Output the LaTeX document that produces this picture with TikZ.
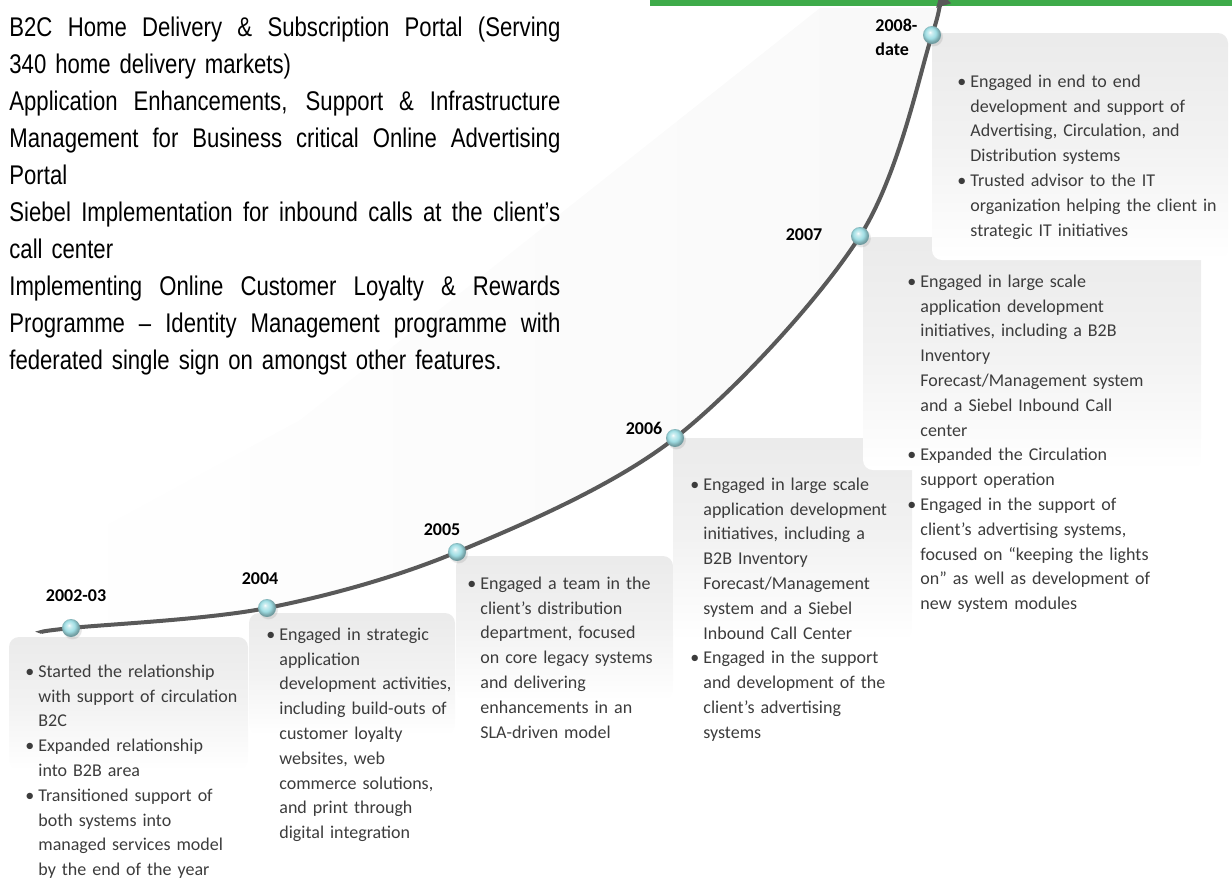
\documentclass[tikz,border=0pt]{standalone}
\usepackage{fontspec}
\setmainfont{Carlito}
\newfontfamily\narrowfont[FakeStretch=0.82]{Liberation Sans}
\usepackage{tikz}
\usetikzlibrary{arrows.meta}
\usetikzlibrary{shadows}
\definecolor{barGreen}{RGB}{62,171,74}
\definecolor{bodyGray}{RGB}{60,60,60}
\definecolor{pearl}{RGB}{160,222,228}
\pgfdeclareradialshading{pearlball}{\pgfqpoint{-6bp}{8bp}}{color(0bp)=(white); color(5bp)=(white!50!pearl); color(15bp)=(pearl); color(25bp)=(pearl!70!black); color(50bp)=(pearl!70!black)}
\tikzstyle{timeline}=[line width=2pt, draw=black!65, -{Triangle[length=7pt, width=7pt]}]
\tikzstyle{marker}=[circle, inner sep=0pt, minimum size=9pt, shading=pearlball, circular drop shadow={shadow xshift=0.6pt, shadow yshift=-0.8pt, opacity=0.2}]
\tikzstyle{year}=[inner sep=0pt, align=left, font=\fontsize{9}{12}\selectfont\bfseries]
\tikzstyle{panel}=[rounded corners=5pt, top color=black!8, bottom color=white, middle color=black!5]
\tikzstyle{notes}=[anchor=north west, inner sep=0pt, text width=135pt, align=left, text=bodyGray, font=\fontsize{9}{12.4}\selectfont]
\newlength{\introwidth}
\setlength{\introwidth}{275.5pt}
\newcommand{\bitem}{\par\let\\\newline\hangindent=6.5pt\hangafter=1\noindent\makebox[6.5pt][l]{\textbullet}}
\newcommand{\jline}[1]{{\spaceskip=0.25em plus 1fil\makebox[\introwidth][s]{#1}}\\}

\begin{document}
\begin{tikzpicture}[x=0.5pt, y=-0.5pt]
	\useasboundingbox (0,0) rectangle (1232,880);
	% points on the time line
	\coordinate (t0) at (42,632);
	\coordinate (y02) at (71,628);
	\coordinate (y04) at (267,608);
	\coordinate (y05) at (457,552);
	\coordinate (y06) at (675,438);
	\coordinate (y07) at (860,236);
	\coordinate (y08) at (932,35);
	\coordinate (tip) at (936,8);

	\fill[barGreen] (650,0) rectangle (1232,6);

	% faint sweep left of the curve
	\shade[left color=white, right color=black!2.5] plot[smooth, tension=0.55] coordinates {(t0) (y02) (y04) (y05) (y06) (y07) (y08) (tip)} -- (820,8) -- (300,420) -- (42,560) -- cycle;

	% panels
	\shade[panel] (9,637) rectangle (248,770);
	\shade[panel] (249,613) rectangle (455,735);
	\shade[panel] (456,556) rectangle (673,700);
	\shade[panel] (673,438) rectangle (912,640);
	\shade[panel] (863,237) rectangle (1201,470);
	\shade[panel] (932,33) rectangle (1228,260);

	\draw[timeline] plot[smooth, tension=0.55] coordinates {(t0) (y02) (y04) (y05) (y06) (y07) (y08) (tip)};

	\node[marker] (n02) at (y02) {};
	\node[marker] (n04) at (y04) {};
	\node[marker] (n05) at (y05) {};
	\node[marker] (n06) at (y06) {};
	\node[marker] (n07) at (y07) {};
	\node[marker] (n08) at (y08) {};

	\node[year] (l02) at (76,596) {2002-03};
	\node[year] (l04) at (260,579) {2004};
	\node[year] (l05) at (442,530) {2005};
	\node[year] (l06) at (644,428) {2006};
	\node[year] (l07) at (804,235) {2007};
	\node[year, anchor=north west] (l08) at (875,19) {2008-\\date};

	% left text block
	\node[anchor=north west, inner sep=0pt, text width=\introwidth, align=left, font=\narrowfont\fontsize{13.5}{18.5}\selectfont] (intro) at (9,17) {%
	\jline{B2C Home Delivery \& Subscription Portal (Serving}
	340 home delivery markets)\\
	\jline{Application Enhancements, Support \& Infrastructure}
	\jline{Management for Business critical Online Advertising}
	Portal\\
	\jline{Siebel Implementation for inbound calls at the client’s}
	call center\\
	\jline{Implementing Online Customer Loyalty \& Rewards}
	\jline{Programme – Identity Management programme with}
	federated single sign on amongst other features.};

	% notes under each year
	\node[notes] (t02) at (25,652) {%
	\bitem Started the relationship\\with support of circulation\\B2C
	\bitem Expanded relationship\\into B2B area
	\bitem Transitioned support of\\both systems into\\managed services model\\by the end of the year\par};
	\node[notes] (t04) at (266,615) {%
	\bitem Engaged in strategic\\application\\development activities,\\including build-outs of\\customer loyalty\\websites, web\\commerce solutions,\\and print through\\digital integration\par};
	\node[notes] (t05) at (467,564) {%
	\bitem Engaged a team in the\\client’s distribution\\department, focused\\on core legacy systems\\and delivering\\enhancements in an\\SLA-driven model\par};
	\node[notes] (t06) at (690,465) {%
	\bitem Engaged in large scale\\application development\\initiatives, including a\\B2B Inventory\\Forecast/Management\\system and a Siebel\\Inbound Call Center
	\bitem Engaged in the support\\and development of the\\client’s advertising\\systems\par};
	\node[notes] (t07) at (907,262) {%
	\bitem Engaged in large scale\\application development\\initiatives, including a B2B\\Inventory\\Forecast/Management system\\and a Siebel Inbound Call\\center
	\bitem Expanded the Circulation\\support operation
	\bitem Engaged in the support of\\client’s advertising systems,\\focused on “keeping the lights\\on” as well as development of\\new system modules\par};
	\node[notes] (t08) at (957,62) {%
	\bitem Engaged in end to end\\development and support of\\Advertising, Circulation, and\\Distribution systems
	\bitem Trusted advisor to the IT\\organization helping the client in\\strategic IT initiatives\par};
\end{tikzpicture}
\end{document}
